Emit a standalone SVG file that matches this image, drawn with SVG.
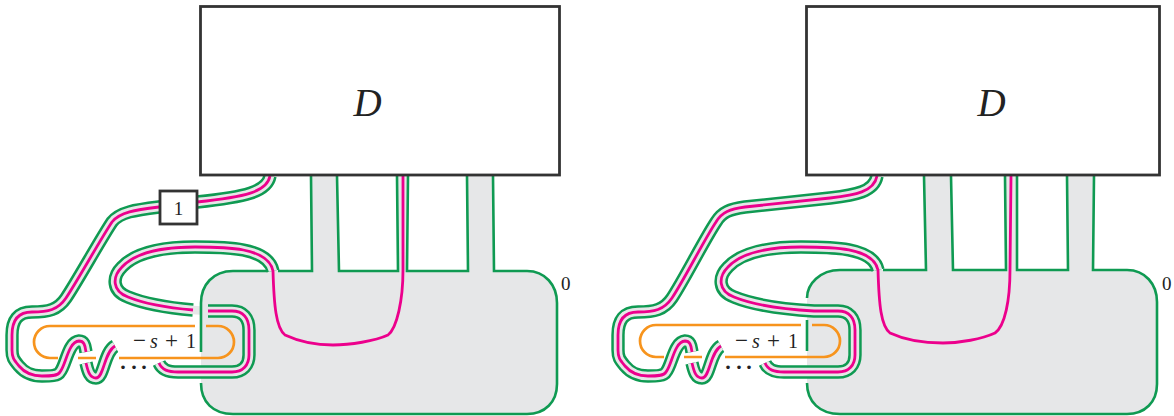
<svg xmlns="http://www.w3.org/2000/svg" width="1174" height="416" viewBox="0 0 1174 416">
<style>
text{font-family:"Liberation Serif","DejaVu Serif",serif;fill:#222}
.i{font-style:italic}
.d{font-size:39px}
.l{font-size:20px}
.p{font-size:23px}
.n{font-size:19px}
.e{font-size:30px}
.f{fill:#e6e7e8;stroke:none}
.o,.g,.y,.m,.u,.c{fill:none}
.o{stroke:#0f9a52;stroke-width:2.6}
.g{stroke:#0f9a52;stroke-width:13.4}
.y{stroke:#e6e7e8;stroke-width:8.4}
.m{stroke:#ec008c;stroke-width:2.8}
.u{stroke:#f7941d;stroke-width:2.7}
.b{fill:#fff;stroke:#333;stroke-width:2.8}
</style>
<g id="left-panel">
<path id="left-surface" class="f" d="M233,271H312L311,176H337L339,271H398L397,176H408L407,271H468L467,176H493L494,271H527C545,271 557,285 557,303V384C557,402 545,414 527,414H233C213,414 201,402 201,383V303C201,285 213,271 233,271Z"/>
<g id="left-connectors">
<path class="g" d="M270,176C267,192 245,197 197,202L159,207C135,210 120,212 112,222C100,240 78,280 66,298C58,310 48,312 32,312C18,312 12,320 12,335V350C12,358 14,360 19,366C24,372 30,376 42,376C50,376 58,376 60,372C66,365 68,342 79,341C85,341 85,347 86,352M86,363C88,372 90,378 96,378C104,378 104,352 115,346M159,363C162,370 168,372 178,372H232C243,372 249,365 249,355V330C249,318 243,311 232,311H208M193,310C170,308 145,304 128,297C112,291 112,277 122,267C136,252 165,247 195,247C225,247 268,247 273,271"/>
<path class="y" d="M270,176C267,192 245,197 197,202L159,207C135,210 120,212 112,222C100,240 78,280 66,298C58,310 48,312 32,312C18,312 12,320 12,335V350C12,358 14,360 19,366C24,372 30,376 42,376C50,376 58,376 60,372C66,365 68,342 79,341C85,341 85,347 86,352M86,363C88,372 90,378 96,378C104,378 104,352 115,346M159,363C162,370 168,372 178,372H232C243,372 249,365 249,355V330C249,318 243,311 232,311H208L193,310C170,308 145,304 128,297C112,291 112,277 122,267C136,252 165,247 195,247C225,247 268,247 273,271"/>
<path class="m" d="M270,176C267,192 245,197 197,202L159,207C135,210 120,212 112,222C100,240 78,280 66,298C58,310 48,312 32,312C18,312 12,320 12,335V350C12,358 14,360 19,366C24,372 30,376 42,376C50,376 58,376 60,372C66,365 68,342 79,341C85,341 85,347 86,352M86,363C88,372 90,378 96,378C104,378 104,352 115,346M159,363C162,370 168,372 178,372H232C243,372 249,365 249,355V330C249,318 243,311 232,311H208M193,310C170,308 145,304 128,297C112,291 112,277 122,267C136,252 165,247 195,247C225,247 268,247 273,271C274,305 276,328 285,335C300,342 318,345 333,345C350,345 375,341 388,335C397,328 403,300 403,270L403,176"/>
<path class="o" d="M201,352V303C201,285 213,271 233,271H268M278,271H312L311,176M337,176L339,271H398L397,176M408,176L407,271H468L467,176M493,176L494,271H527C545,271 557,285 557,303V384C557,402 545,414 527,414H233C213,414 201,402 201,383"/>
<path class="u" d="M195,326H50A16,16 0 0 0 50,358H58M78,358H96M119,358H218A16,16 0 0 0 218,326H206"/>
</g>
<g id="left-D"><rect class="b" x="200.500" y="6.500" width="359" height="168.500"/><text class="i d" x="353.500" y="116">D</text></g>
<g id="left-box"><rect class="b" x="160" y="191" width="37" height="33"/><text class="n" x="178.500" y="215" text-anchor="middle">1</text></g>
<text class="l" y="348"><tspan class="p" x="133">−</tspan><tspan class="i" x="150">s</tspan><tspan class="p" x="165">+</tspan><tspan x="186">1</tspan></text>
<text class="e" y="377"><tspan x="118">·</tspan><tspan x="129">·</tspan><tspan x="139">·</tspan></text>
<text class="n" x="561" y="290">0</text>
</g>
<g id="right-panel">
<path id="right-surface" class="f" d="M840,270H926L924,176H951L953,270H1006L1005,176H1017L1017,270H1068L1067,176H1094L1093,270H1127C1145,270 1157,284 1157,302V384C1157,402 1145,414 1127,414H840C820,414 807,402 807,383V302C807,284 820,270 840,270Z"/>
<g id="right-connectors">
<path class="g" d="M877,176C874,192 855,195 830,198L745,207C730,209 722,212 716,222C704,240 684,280 672,298C664,310 654,312 638,312C624,312 618,320 618,335V350C618,358 620,360 625,366C630,372 636,376 648,376C656,376 664,376 666,372C672,365 674,342 685,341C691,341 691,347 692,352M692,363C694,372 696,378 702,378C710,378 710,352 721,346M765,363C768,370 774,372 784,372H838C849,372 855,365 855,355V330C855,318 849,311 838,311H814C780,309 751,304 734,297C718,291 718,277 728,267C742,252 771,247 801,247C831,247 873,247 878,270"/>
<path class="y" d="M877,176C874,192 855,195 830,198L745,207C730,209 722,212 716,222C704,240 684,280 672,298C664,310 654,312 638,312C624,312 618,320 618,335V350C618,358 620,360 625,366C630,372 636,376 648,376C656,376 664,376 666,372C672,365 674,342 685,341C691,341 691,347 692,352M692,363C694,372 696,378 702,378C710,378 710,352 721,346M765,363C768,370 774,372 784,372H838C849,372 855,365 855,355V330C855,318 849,311 838,311H814C780,309 751,304 734,297C718,291 718,277 728,267C742,252 771,247 801,247C831,247 873,247 878,270"/>
<path class="m" d="M877,176C874,192 855,195 830,198L745,207C730,209 722,212 716,222C704,240 684,280 672,298C664,310 654,312 638,312C624,312 618,320 618,335V350C618,358 620,360 625,366C630,372 636,376 648,376C656,376 664,376 666,372C672,365 674,342 685,341C691,341 691,347 692,352M692,363C694,372 696,378 702,378C710,378 710,352 721,346M765,363C768,370 774,372 784,372H838C849,372 855,365 855,355V330C855,318 849,311 838,311H814C780,309 751,304 734,297C718,291 718,277 728,267C742,252 771,247 801,247C831,247 873,247 878,270C879,305 881,326 890,333C905,340 925,343 943,343C960,343 982,339 995,333C1005,326 1010,300 1010,270L1011,176"/>
<path class="o" d="M807,298C807,284 820,270 840,270H873M883,270H926L924,176M951,176L953,270H1006L1005,176M1017,176L1017,270H1068L1067,176M1094,176L1093,270H1127C1145,270 1157,284 1157,302V384C1157,402 1145,414 1127,414H840C820,414 807,402 807,383M807,320V351"/>
<path class="u" d="M801,325H656A16,16 0 0 0 656,357H664M684,357H702M725,357H824A16,16 0 0 0 824,325H812"/>
</g>
<g id="right-D"><rect class="b" x="806.500" y="6.500" width="353" height="168.500"/><text class="i d" x="977.500" y="116">D</text></g>
<text class="l" y="348"><tspan class="p" x="735">−</tspan><tspan class="i" x="752">s</tspan><tspan class="p" x="767">+</tspan><tspan x="788">1</tspan></text>
<text class="e" y="377"><tspan x="723">·</tspan><tspan x="734">·</tspan><tspan x="744">·</tspan></text>
<text class="n" x="1162" y="290">0</text>
</g>
</svg>
